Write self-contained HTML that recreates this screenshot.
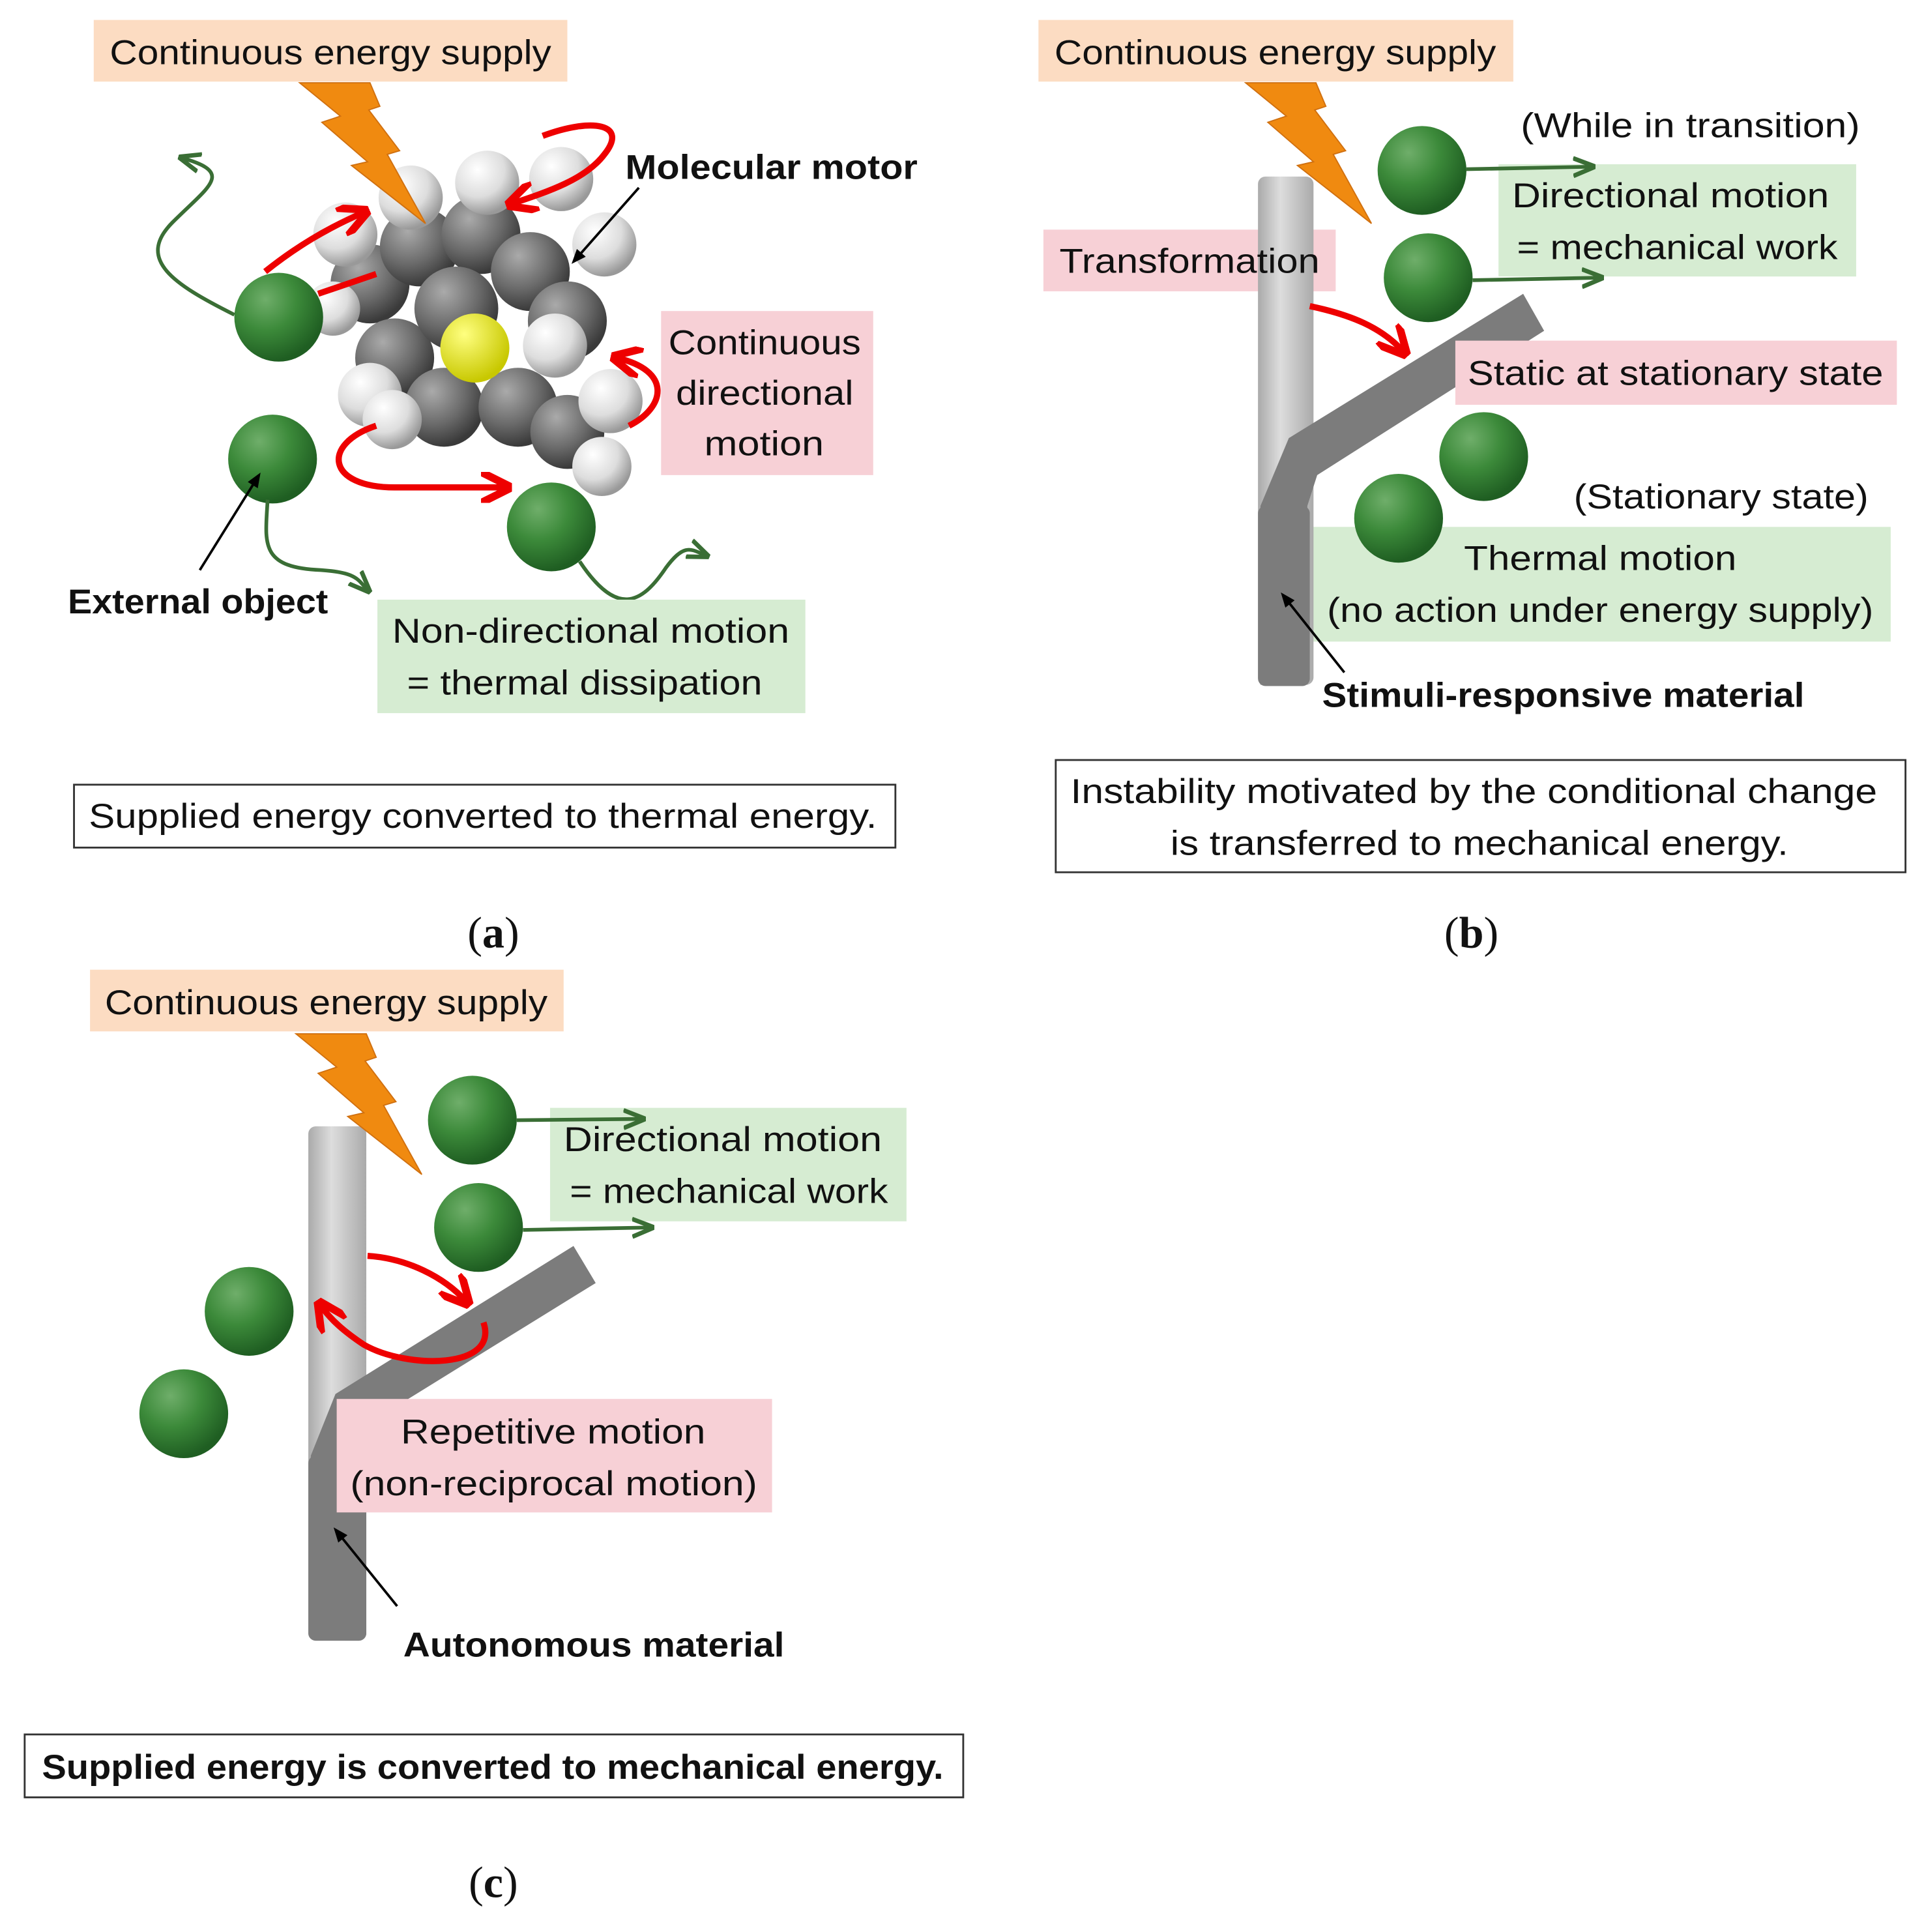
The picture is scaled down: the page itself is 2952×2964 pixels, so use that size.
<!DOCTYPE html>
<html><head><meta charset="utf-8"><style>
html,body{margin:0;padding:0;background:#fff}
svg{display:block}
text{font-family:"Liberation Sans",sans-serif;font-size:28px;fill:#111}
.b{font-weight:bold}
.s{font-family:"Liberation Serif",serif;font-size:36px}
</style></head><body>
<svg width="2952" height="2964" viewBox="0 0 1560 1566" xmlns="http://www.w3.org/2000/svg">
<defs>
<radialGradient id="g" cx="35%" cy="30%" r="70%"><stop offset="0" stop-color="#6fae6a"/><stop offset=".5" stop-color="#3c8a3a"/><stop offset="1" stop-color="#1f5e22"/></radialGradient>
<radialGradient id="gr" cx="35%" cy="30%" r="70%"><stop offset="0" stop-color="#aaa"/><stop offset=".6" stop-color="#6a6a6a"/><stop offset="1" stop-color="#3a3a3a"/></radialGradient>
<radialGradient id="wh" cx="35%" cy="30%" r="70%"><stop offset="0" stop-color="#fff"/><stop offset=".6" stop-color="#ddd"/><stop offset="1" stop-color="#999"/></radialGradient>
<radialGradient id="ye" cx="35%" cy="30%" r="70%"><stop offset="0" stop-color="#ffff80"/><stop offset="1" stop-color="#c8c800"/></radialGradient>
<linearGradient id="lb" x1="0" x2="1"><stop offset="0" stop-color="#aaa"/><stop offset=".4" stop-color="#ddd"/><stop offset="1" stop-color="#aaa"/></linearGradient>
<marker id="ar" viewBox="0 0 10 10" refX="8" refY="5" markerWidth="5" markerHeight="5" orient="auto"><path d="M0,0L10,5L0,10" fill="none" stroke="#e00" stroke-width="2.5"/></marker>
<marker id="ag" viewBox="0 0 10 10" refX="8" refY="5" markerWidth="6" markerHeight="6" orient="auto"><path d="M0,1L10,5L0,9" fill="none" stroke="#3a6e35" stroke-width="2"/></marker>
<marker id="ak" viewBox="0 0 10 10" refX="8" refY="5" markerWidth="6" markerHeight="6" orient="auto"><path d="M0,1L10,5L0,9z" fill="#000"/></marker>
<polygon id="bolt" points="0,0 57,0 65,19 56,22 81,55 71,58 102,114 42,67 55,64 18,32 33,27" fill="#f08a10" stroke="#d07010" stroke-width="1"/>
</defs>

<!-- Panel A -->
<rect x="76" y="16" width="384" height="50" fill="#fcdcc2"/>
<text x="89" y="52" textLength="358" lengthAdjust="spacingAndGlyphs">Continuous energy supply</text>
<g>
<circle cx="300" cy="230" r="32" fill="url(#gr)"/><circle cx="340" cy="200" r="32" fill="url(#gr)"/>
<circle cx="390" cy="190" r="32" fill="url(#gr)"/><circle cx="430" cy="220" r="32" fill="url(#gr)"/>
<circle cx="460" cy="260" r="32" fill="url(#gr)"/><circle cx="320" cy="290" r="32" fill="url(#gr)"/>
<circle cx="360" cy="330" r="32" fill="url(#gr)"/><circle cx="420" cy="330" r="32" fill="url(#gr)"/>
<circle cx="460" cy="350" r="30" fill="url(#gr)"/><circle cx="370" cy="250" r="34" fill="url(#gr)"/>
<circle cx="280" cy="190" r="26" fill="url(#wh)"/><circle cx="333" cy="160" r="26" fill="url(#wh)"/>
<circle cx="395" cy="148" r="26" fill="url(#wh)"/><circle cx="455" cy="145" r="26" fill="url(#wh)"/>
<circle cx="490" cy="198" r="26" fill="url(#wh)"/><circle cx="450" cy="280" r="26" fill="url(#wh)"/>
<circle cx="495" cy="325" r="26" fill="url(#wh)"/><circle cx="488" cy="378" r="24" fill="url(#wh)"/>
<circle cx="300" cy="320" r="26" fill="url(#wh)"/><circle cx="318" cy="340" r="24" fill="url(#wh)"/>
<circle cx="270" cy="250" r="22" fill="url(#wh)"/>
<circle cx="385" cy="282" r="28" fill="url(#ye)"/>
</g>
<use href="#bolt" x="243" y="67"/>
<circle cx="226" cy="257" r="36" fill="url(#g)"/>
<circle cx="221" cy="372" r="36" fill="url(#g)"/>
<circle cx="447" cy="427" r="36" fill="url(#g)"/>
<path d="M190,255 C140,230 110,210 140,180 C170,150 190,140 148,128" fill="none" stroke="#3a6e35" stroke-width="3" marker-end="url(#ag)"/>
<path d="M217,405 C215,440 210,460 260,462 C290,464 290,470 298,478" fill="none" stroke="#3a6e35" stroke-width="3" marker-end="url(#ag)"/>
<path d="M470,455 C500,500 520,490 540,460 C555,440 560,445 572,450" fill="none" stroke="#3a6e35" stroke-width="3" marker-end="url(#ag)"/>
<path d="M215,220 C240,200 265,185 295,172" fill="none" stroke="#e00" stroke-width="5" marker-end="url(#ar)"/>
<path d="M258,238 L305,222" fill="none" stroke="#e00" stroke-width="5"/>
<path d="M440,110 C480,95 510,100 490,125 C475,145 445,155 415,165" fill="none" stroke="#e00" stroke-width="5" marker-end="url(#ar)"/>
<path d="M510,345 C540,330 545,300 500,290" fill="none" stroke="#e00" stroke-width="5" marker-end="url(#ar)"/>
<path d="M305,345 C260,360 265,395 320,395 L410,395" fill="none" stroke="#e00" stroke-width="5" marker-end="url(#ar)"/>
<text x="507" y="145" class="b" textLength="237" lengthAdjust="spacingAndGlyphs">Molecular motor</text>
<line x1="518" y1="152" x2="465" y2="212" stroke="#000" stroke-width="2" marker-end="url(#ak)"/>
<rect x="536" y="252" width="172" height="133" fill="#f7d0d6"/>
<text x="542" y="287" textLength="156" lengthAdjust="spacingAndGlyphs">Continuous</text>
<text x="548" y="328" textLength="144" lengthAdjust="spacingAndGlyphs">directional</text>
<text x="571" y="369" textLength="97" lengthAdjust="spacingAndGlyphs">motion</text>
<text x="55" y="497" class="b" textLength="211" lengthAdjust="spacingAndGlyphs">External object</text>
<line x1="162" y1="462" x2="210" y2="385" stroke="#000" stroke-width="2" marker-end="url(#ak)"/>
<rect x="306" y="486" width="347" height="92" fill="#d6ecd2"/>
<text x="318" y="521" textLength="322" lengthAdjust="spacingAndGlyphs">Non-directional motion</text>
<text x="330" y="563" textLength="288" lengthAdjust="spacingAndGlyphs">= thermal dissipation</text>
<rect x="60" y="636" width="666" height="51" fill="#fff" stroke="#333" stroke-width="1.5"/>
<text x="72" y="671" textLength="639" lengthAdjust="spacingAndGlyphs">Supplied energy converted to thermal energy.</text>
<text x="400" y="768" class="s" text-anchor="middle">(<tspan font-weight="bold">a</tspan>)</text>

<!-- Panel B -->
<rect x="842" y="16" width="385" height="50" fill="#fcdcc2"/>
<text x="855" y="52" textLength="358" lengthAdjust="spacingAndGlyphs">Continuous energy supply</text>
<rect x="1215" y="133" width="290" height="91" fill="#d6ecd2"/>
<rect x="846" y="186" width="237" height="50" fill="#f7d0d6"/>
<rect x="1062" y="427" width="471" height="93" fill="#d6ecd2"/>
<rect x="1020" y="143" width="45" height="412" rx="6" fill="url(#lb)"/>
<path d="M1022,555 L1022,410 L1045,355 L1235,238 L1252,268 L1068,385 L1060,410 L1060,555 Z" fill="#7c7c7c"/>
<rect x="1020" y="410" width="42" height="146" rx="6" fill="#7c7c7c"/>
<use href="#bolt" x="1010" y="67"/>
<circle cx="1153" cy="138" r="36" fill="url(#g)"/>
<circle cx="1158" cy="225" r="36" fill="url(#g)"/>
<circle cx="1203" cy="370" r="36" fill="url(#g)"/>
<circle cx="1134" cy="420" r="36" fill="url(#g)"/>
<line x1="1189" y1="137" x2="1290" y2="135" stroke="#3a6e35" stroke-width="3" marker-end="url(#ag)"/>
<line x1="1194" y1="227" x2="1297" y2="225" stroke="#3a6e35" stroke-width="3" marker-end="url(#ag)"/>
<text x="1233" y="111" textLength="275" lengthAdjust="spacingAndGlyphs">(While in transition)</text>
<text x="1226" y="168" textLength="257" lengthAdjust="spacingAndGlyphs">Directional motion</text>
<text x="1230" y="210" textLength="260" lengthAdjust="spacingAndGlyphs">= mechanical work</text>
<text x="859" y="221" textLength="211" lengthAdjust="spacingAndGlyphs">Transformation</text>
<path d="M1062,248 C1095,255 1120,265 1138,285" fill="none" stroke="#e00" stroke-width="5" marker-end="url(#ar)"/>
<rect x="1180" y="276" width="358" height="52" fill="#f7d0d6"/>
<text x="1190" y="312" textLength="337" lengthAdjust="spacingAndGlyphs">Static at stationary state</text>
<text x="1276" y="412" textLength="239" lengthAdjust="spacingAndGlyphs">(Stationary state)</text>
<text x="1187" y="462" textLength="221" lengthAdjust="spacingAndGlyphs">Thermal motion</text>
<text x="1076" y="504" textLength="443" lengthAdjust="spacingAndGlyphs">(no action under energy supply)</text>
<text x="1072" y="573" class="b" textLength="391" lengthAdjust="spacingAndGlyphs">Stimuli-responsive material</text>
<line x1="1090" y1="545" x2="1040" y2="482" stroke="#000" stroke-width="2" marker-end="url(#ak)"/>
<rect x="856" y="616" width="689" height="91" fill="#fff" stroke="#333" stroke-width="1.5"/>
<text x="868" y="651" textLength="654" lengthAdjust="spacingAndGlyphs">Instability motivated by the conditional change</text>
<text x="949" y="693" textLength="501" lengthAdjust="spacingAndGlyphs">is transferred to mechanical energy.</text>
<text x="1193" y="768" class="s" text-anchor="middle">(<tspan font-weight="bold">b</tspan>)</text>

<!-- Panel C -->
<rect x="73" y="786" width="384" height="50" fill="#fcdcc2"/>
<text x="85" y="822" textLength="359" lengthAdjust="spacingAndGlyphs">Continuous energy supply</text>
<rect x="446" y="898" width="289" height="92" fill="#d6ecd2"/>
<rect x="250" y="913" width="47" height="417" rx="6" fill="url(#lb)"/>
<path d="M252,1325 L252,1180 L272,1130 L465,1010 L483,1040 L297,1155 L297,1325 Z" fill="#7c7c7c"/>
<rect x="250" y="1180" width="47" height="150" rx="6" fill="#7c7c7c"/>
<use href="#bolt" x="240" y="838"/>
<circle cx="383" cy="908" r="36" fill="url(#g)"/>
<circle cx="388" cy="995" r="36" fill="url(#g)"/>
<circle cx="202" cy="1063" r="36" fill="url(#g)"/>
<circle cx="149" cy="1146" r="36" fill="url(#g)"/>
<line x1="419" y1="908" x2="520" y2="907" stroke="#3a6e35" stroke-width="3" marker-end="url(#ag)"/>
<line x1="424" y1="997" x2="527" y2="995" stroke="#3a6e35" stroke-width="3" marker-end="url(#ag)"/>
<text x="457" y="933" textLength="258" lengthAdjust="spacingAndGlyphs">Directional motion</text>
<text x="462" y="975" textLength="258" lengthAdjust="spacingAndGlyphs">= mechanical work</text>
<path d="M298,1018 C330,1020 360,1035 378,1055" fill="none" stroke="#e00" stroke-width="5" marker-end="url(#ar)"/>
<path d="M392,1072 C405,1110 330,1110 295,1090 C280,1080 268,1070 260,1058" fill="none" stroke="#e00" stroke-width="5" marker-end="url(#ar)"/>
<rect x="273" y="1134" width="353" height="92" fill="#f7d0d6"/>
<text x="325" y="1170" textLength="247" lengthAdjust="spacingAndGlyphs">Repetitive motion</text>
<text x="284" y="1212" textLength="330" lengthAdjust="spacingAndGlyphs">(non-reciprocal motion)</text>
<text x="327" y="1343" class="b" textLength="309" lengthAdjust="spacingAndGlyphs">Autonomous material</text>
<line x1="322" y1="1302" x2="272" y2="1240" stroke="#000" stroke-width="2" marker-end="url(#ak)"/>
<rect x="20" y="1406" width="761" height="51" fill="#fff" stroke="#333" stroke-width="1.5"/>
<text x="34" y="1442" class="b" textLength="731" lengthAdjust="spacingAndGlyphs">Supplied energy is converted to mechanical energy.</text>
<text x="400" y="1538" class="s" text-anchor="middle">(<tspan font-weight="bold">c</tspan>)</text>
</svg>
</body></html>
